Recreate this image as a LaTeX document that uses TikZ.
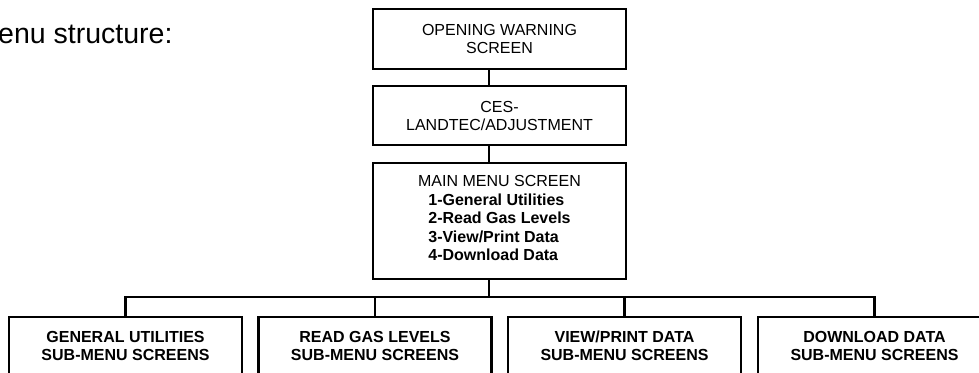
\documentclass[tikz,border=0pt]{standalone}
\usepackage{fontspec}
\setmainfont{Liberation Sans}
\usetikzlibrary{calc}

\begin{document}
\begin{tikzpicture}[x=1pt,y=-1pt,
  scrbox/.style={draw,line width=2.8pt,inner sep=0pt,align=center,minimum width=253,font=\fontsize{16}{18}\selectfont},
  subbox/.style={scrbox,minimum width=233,minimum height=57,font=\fontsize{16}{18}\selectfont\bfseries},
  link/.style={line width=2.8pt}]
\path[use as bounding box,clip] (0,0) rectangle (979,372);
\node[anchor=base east,font=\fontsize{28.5}{32}\selectfont] (title) at (176,43) {Menu structure:};
\node[scrbox,minimum height=60] (warn) at (499.5,39) {OPENING WARNING\\SCREEN};
\node[scrbox,minimum height=59] (ces) at (499.5,115.5) {CES-\\LANDTEC/ADJUSTMENT};
\node[scrbox,minimum height=116,font=\fontsize{16}{18.5}\selectfont] (mainmenu) at (499.5,221) {MAIN MENU SCREEN\\
\begin{tabular}[t]{@{}l@{}}
\textbf{1-General Utilities}\\
\textbf{2-Read Gas Levels}\\
\textbf{3-View/Print Data}\\
\textbf{4-Download Data}
\end{tabular}};
\foreach \nm/\xx/\txt in {util/125.5/GENERAL UTILITIES,gas/375/READ GAS LEVELS,view/624.5/{VIEW/PRINT DATA},down/874.5/DOWNLOAD DATA}
  \node[subbox] (\nm) at (\xx,345.5) {\txt\\SUB-MENU SCREENS};
\coordinate (spine) at (489,0);
\coordinate (bus) at (0,297);
\draw[link] (warn.south -| spine) -- (ces.north -| spine);
\draw[link] (ces.south -| spine) -- (mainmenu.north -| spine);
\draw[link] (mainmenu.south -| spine) -- (bus -| spine);
\draw[link] (util.north) -- (util.north |- bus) -- (down.north |- bus) -- (down.north);
\draw[link] (gas.north) -- (gas.north |- bus);
\draw[link] (view.north) -- (view.north |- bus);
\end{tikzpicture}
\end{document}
